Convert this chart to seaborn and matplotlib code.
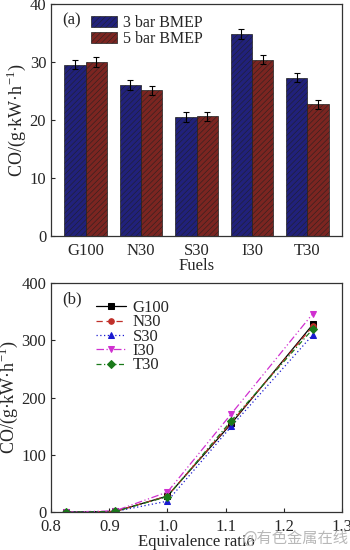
import matplotlib
matplotlib.use("Agg")
import matplotlib.pyplot as plt
import seaborn as sns
import pandas as pd

# Panel (a): CO emissions per fuel at two loads
fuels = ["G100", "N30", "S30", "I30", "T30"]
co_3bar = [29.5, 26.0, 20.5, 34.8, 27.3]
co_5bar = [30.0, 25.1, 20.6, 30.4, 22.7]
err_3bar = [0.8, 0.8, 0.8, 0.8, 0.8]
err_5bar = [0.8, 0.8, 0.8, 0.8, 0.8]
loads = ["3 bar BMEP", "5 bar BMEP"]

# Panel (b): CO vs equivalence ratio
phi = [0.826, 0.91, 1.0, 1.11, 1.25]
co_phi = {
    "G100": [0, 1, 28, 155, 328],
    "N30": [0, 1, 28, 157, 325],
    "S30": [0, 1, 19, 150, 310],
    "I30": [0, 2, 35, 172, 347],
    "T30": [0, 1, 27, 160, 320],
}

sns.set_style("ticks")
plt.rcParams["font.family"] = ["Liberation Serif", "DejaVu Serif"]
plt.rcParams["font.size"] = 12
plt.rcParams["mathtext.fontset"] = "custom"
plt.rcParams["mathtext.rm"] = "Liberation Serif"
plt.rcParams["hatch.linewidth"] = 0.35

fig = plt.figure(figsize=(3.5, 5.5), dpi=100)
ax1 = fig.add_axes([0.146, 0.571, 0.831, 0.422])
ax2 = fig.add_axes([0.146, 0.069, 0.831, 0.416])

# ---- (a) bars
df = pd.DataFrame({
    "fuel": fuels * 2,
    "load": [loads[0]] * len(fuels) + [loads[1]] * len(fuels),
    "co": co_3bar + co_5bar,
})
bar_colors = ["#12128a", "#8a1812"]
sns.barplot(data=df, x="fuel", y="co", hue="load", palette=bar_colors,
            width=0.77, edgecolor="#202020", linewidth=0.5, errorbar=None, ax=ax1)

for patch in ax1.patches:
    if patch.get_height() > 0:
        patch.set_hatch("//////")

for cont, errs in zip(ax1.containers, [err_3bar, err_5bar]):
    xs = [p.get_x() + p.get_width() / 2 for p in cont]
    ys = [p.get_height() for p in cont]
    ax1.errorbar(xs, ys, yerr=errs, fmt="none", ecolor="black",
                 elinewidth=0.8, capsize=2, capthick=0.8)

ax1.set_ylim(0, 40)
ax1.set_yticks([0, 10, 20, 30, 40])
ax1.set_xlabel("Fuels", labelpad=-1)
ax1.set_ylabel("CO/(g·kW·h$^{-1}$)", labelpad=1, fontsize=13)
ax1.text(0.04, 0.965, "(a)", transform=ax1.transAxes, ha="left", va="top")
leg = ax1.legend(loc="upper left", bbox_to_anchor=(0.1, 1.0), frameon=False,
                 handlelength=1.6, handleheight=0.65, labelspacing=0.0,
                 handletextpad=0.4, borderaxespad=0.3, fontsize=11.5)
for h in leg.legend_handles:
    h.set_hatch("//////")

# ---- (b) lines
styles = {
    "G100": dict(color="black", ls="-", marker="s"),
    "N30": dict(color="#c0302a", ls=(0, (5, 3)), marker="o"),
    "S30": dict(color="#1a1ad0", ls=(0, (1, 2)), marker="^"),
    "I30": dict(color="#d030d0", ls=(0, (6, 2, 1, 2, 1, 2)), marker="v"),
    "T30": dict(color="#1a7a1a", ls=(0, (4, 2, 1, 2)), marker="D"),
}
long_df = pd.DataFrame([
    {"phi": x, "co": y, "fuel": f}
    for f, vals in co_phi.items() for x, y in zip(phi, vals)
])
for f in fuels:
    sub = long_df[long_df["fuel"] == f]
    st = styles[f]
    sns.lineplot(data=sub, x="phi", y="co", color=st["color"], linestyle=st["ls"],
                 marker=st["marker"], markersize=4, markeredgecolor=st["color"],
                 linewidth=0.9, label=f, ax=ax2)

ax2.set_xlim(0.8, 1.3)
ax2.set_ylim(0, 400)
ax2.set_yticks([0, 100, 200, 300, 400])
ax2.set_xticks([0.8, 0.9, 1.0, 1.1, 1.2, 1.3])
ax2.set_xlabel("Equivalence ratio", labelpad=-1)
ax2.set_ylabel("CO/(g·kW·h$^{-1}$)", labelpad=1, fontsize=13)
ax2.text(0.04, 0.965, "(b)", transform=ax2.transAxes, ha="left", va="top")
ax2.legend(loc="upper left", bbox_to_anchor=(0.12, 0.97), frameon=False,
           handlelength=1.8, labelspacing=-0.1, handletextpad=0.4,
           borderaxespad=0.2, fontsize=12)

for ax in (ax1, ax2):
    ax.tick_params(direction="in", length=3, width=0.8, labelsize=12,
                   top=False, right=False)
    ax.tick_params(axis="x", pad=5)
    for s in ax.spines.values():
        s.set_linewidth(0.9)
        s.set_color("#333333")

fig.text(0.995, 0.005, "@有色金属在线", ha="right", va="bottom", fontsize=11,
         color="#b8b8b8", family=["Noto Sans CJK SC", "DejaVu Sans"])

fig.savefig("out.png", dpi=100)
